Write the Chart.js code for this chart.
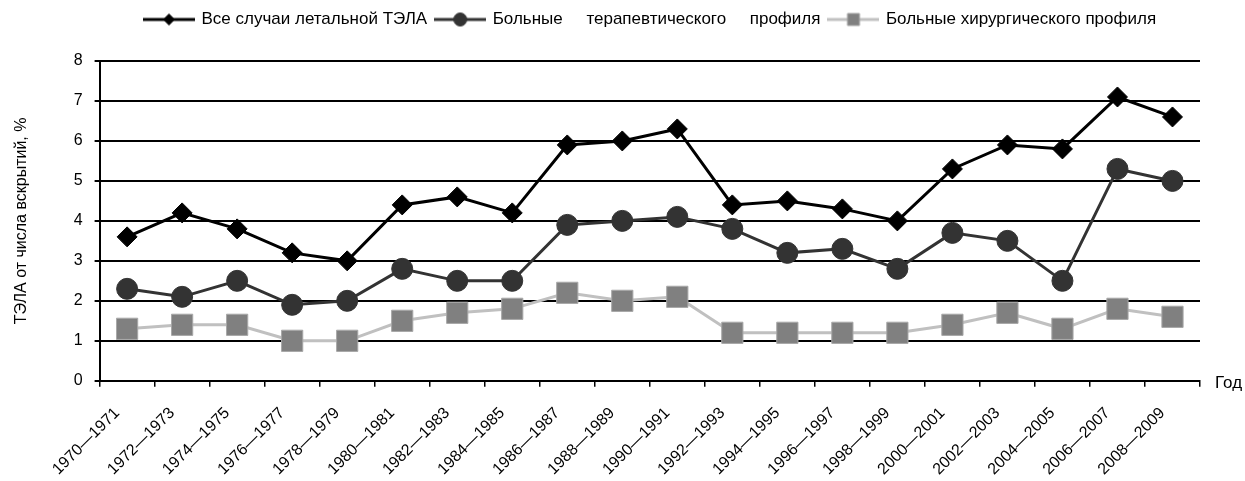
<!DOCTYPE html>
<html>
<head>
<meta charset="utf-8">
<script src="https://cdn.jsdelivr.net/npm/chart.js@4/dist/chart.umd.min.js"></script>
<style>
  html, body { margin: 0; padding: 0; background: #fff; }
  #wrap { width: 1245px; height: 481px; }
</style>
</head>
<body>
<div id="wrap"><canvas id="c" width="1245" height="481"></canvas></div>
<script>
const categories = ['1970—1971','1972—1973','1974—1975','1976—1977','1978—1979','1980—1981','1982—1983','1984—1985','1986—1987','1988—1989','1990—1991','1992—1993','1994—1995','1996—1997','1998—1999','2000—2001','2002—2003','2004—2005','2006—2007','2008—2009'];
const allCases = [3.6, 4.2, 3.8, 3.2, 3.0, 4.4, 4.6, 4.2, 5.9, 6.0, 6.3, 4.4, 4.5, 4.3, 4.0, 5.3, 5.9, 5.8, 7.1, 6.6];
const therapeutic = [2.3, 2.1, 2.5, 1.9, 2.0, 2.8, 2.5, 2.5, 3.9, 4.0, 4.1, 3.8, 3.2, 3.3, 2.8, 3.7, 3.5, 2.5, 5.3, 5.0];
const surgical = [1.3, 1.4, 1.4, 1.0, 1.0, 1.5, 1.7, 1.8, 2.2, 2.0, 2.1, 1.2, 1.2, 1.2, 1.2, 1.4, 1.7, 1.3, 1.8, 1.6];
const seriesNames = ['Все случаи летальной ТЭЛА', 'Больные     терапевтического     профиля', 'Больные хирургического профиля'];
const yTicks = [0, 1, 2, 3, 4, 5, 6, 7, 8];
const yTitle = 'ТЭЛА от числа вскрытий, %';
const xEndLabel = 'Год';

const FONT = '"Liberation Sans", Arial, sans-serif';

function legendIcon(lineColor, marker, fill, border) {
  const cv = document.createElement('canvas');
  cv.width = 52; cv.height = 16;
  const g = cv.getContext('2d');
  g.strokeStyle = lineColor; g.lineWidth = 3;
  g.beginPath(); g.moveTo(0, 8); g.lineTo(52, 8); g.stroke();
  g.fillStyle = fill; g.strokeStyle = border; g.lineWidth = 1;
  g.beginPath();
  if (marker === 'diamond') {
    g.moveTo(26, 2.5); g.lineTo(31.5, 8); g.lineTo(26, 13.5); g.lineTo(20.5, 8); g.closePath();
  } else if (marker === 'circle') {
    g.arc(26, 8, 6.5, 0, Math.PI * 2);
  } else {
    g.rect(20, 2, 12, 12);
  }
  g.fill(); g.stroke();
  return cv;
}
const icons = [
  legendIcon('#000000', 'diamond', '#000000', '#000000'),
  legendIcon('#333333', 'circle', '#333333', '#333333'),
  legendIcon('#c0c0c0', 'square', '#808080', '#a0a0a0')
];

const legendShift = {
  id: 'legendShift',
  afterLayout(chart) {
    const lg = chart.legend;
    const w = lg.right - lg.left;
    lg.left = 145 - lg.options.labels.padding;
    lg.right = lg.left + w;
    lg.top -= 23; lg.bottom -= 23;
  }
};
const endLabel = {
  id: 'endLabel',
  afterDraw(chart) {
    const ctx = chart.ctx;
    const x = chart.scales.x;
    ctx.save();
    ctx.font = '17px ' + FONT;
    ctx.fillStyle = '#000';
    ctx.textBaseline = 'middle';
    ctx.textAlign = 'left';
    ctx.fillText(xEndLabel, x.right + 15, x.top + 3);
    ctx.restore();
  }
};

new Chart(document.getElementById('c'), {
  type: 'line',
  data: {
    labels: categories,
    datasets: [
      { label: seriesNames[0], data: allCases, borderColor: '#000000', borderWidth: 3,
        pointStyle: 'rectRot', pointRadius: 10, pointBackgroundColor: '#000000', pointBorderColor: '#000000', pointBorderWidth: 1, tension: 0 },
      { label: seriesNames[1], data: therapeutic, borderColor: '#333333', borderWidth: 3,
        pointStyle: 'circle', pointRadius: 10.5, pointBackgroundColor: '#333333', pointBorderColor: '#333333', pointBorderWidth: 1, tension: 0 },
      { label: seriesNames[2], data: surgical, borderColor: '#c0c0c0', borderWidth: 3,
        pointStyle: 'rect', pointRadius: 15, pointBackgroundColor: '#808080', pointBorderColor: '#a8a8a8', pointBorderWidth: 1, tension: 0 }
    ]
  },
  options: {
    responsive: false,
    animation: false,
    events: [],
    layout: { padding: { left: 0, right: 45, top: 25, bottom: 0 } },
    plugins: {
      tooltip: { enabled: false },
      legend: {
        position: 'top',
        align: 'start',
        labels: {
          usePointStyle: true,
          pointStyleWidth: 48,
          padding: 9,
          color: '#000',
          font: { family: FONT, size: 17 },
          generateLabels(chart) {
            return chart.data.datasets.map((ds, i) => ({
              text: ds.label, pointStyle: icons[i], datasetIndex: i, hidden: false,
              fillStyle: ds.borderColor, strokeStyle: ds.borderColor, lineWidth: 0, fontColor: '#000'
            }));
          }
        }
      }
    },
    scales: {
      x: {
        offset: true,
        afterFit(scale) { scale.height -= 15; },
        grid: { display: true, offset: true, drawOnChartArea: false, drawTicks: true, tickLength: 6, color: '#000', lineWidth: 1.5 },
        border: { display: true, color: '#000', width: 2 },
        ticks: { color: '#000', font: { family: FONT, size: 16 }, minRotation: 45, maxRotation: 45, autoSkip: false, padding: 17, labelOffset: -10 }
      },
      y: {
        min: 0, max: 8,
        afterBuildTicks(scale) { scale.ticks = yTicks.map(v => ({ value: v })); },
        grid: { color: '#000', lineWidth: 2, tickLength: 5, drawTicks: true },
        border: { display: true, color: '#000', width: 2 },
        ticks: { color: '#000', font: { family: FONT, size: 16 }, padding: 12 },
        title: { display: true, text: yTitle, color: '#000', font: { family: FONT, size: 16 }, padding: { top: 12, bottom: 30.5 } }
      }
    }
  },
  plugins: [legendShift, endLabel]
});
</script>
</body>
</html>
